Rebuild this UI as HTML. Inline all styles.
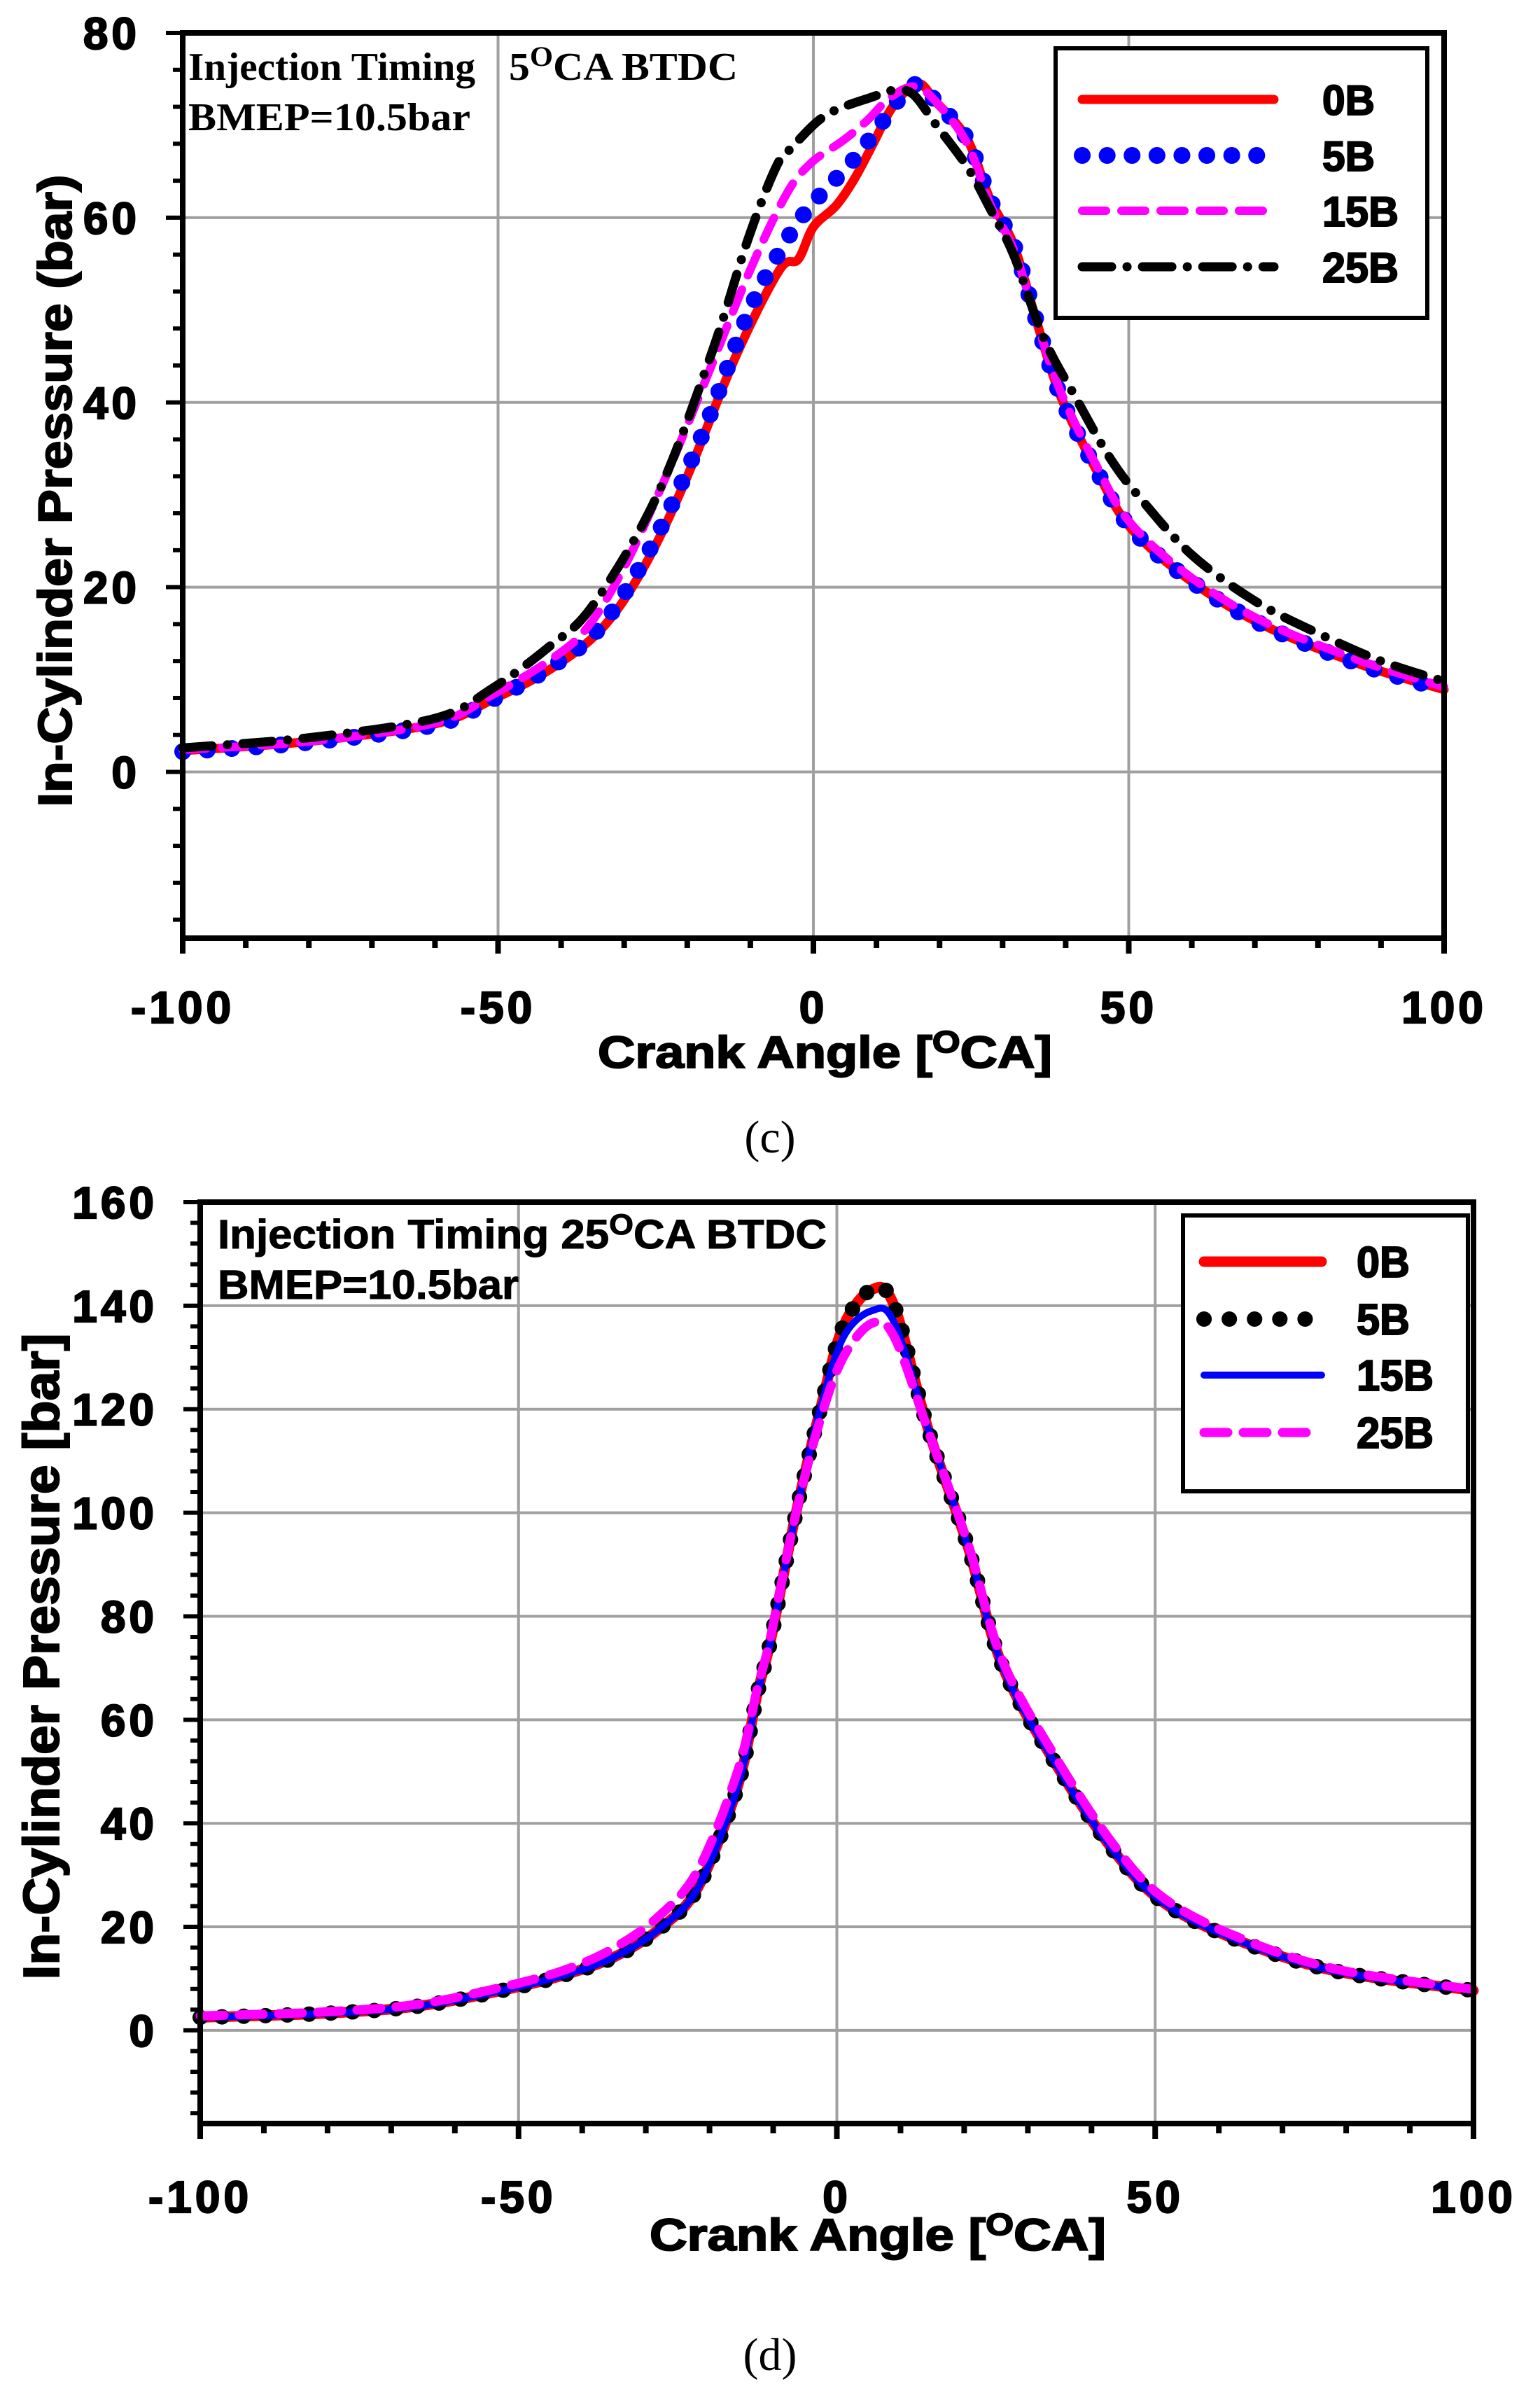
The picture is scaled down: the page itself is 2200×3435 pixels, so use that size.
<!DOCTYPE html>
<html><head><meta charset="utf-8"><style>
html,body{margin:0;padding:0;background:#fff;}
svg{display:block;}
text{font-family:"Liberation Sans",sans-serif;font-weight:bold;fill:#000;}
.tk{font-size:64px;letter-spacing:5px;stroke:#000;stroke-width:2.2px;}
.ax{stroke:#000;stroke-width:2px;}
.sr{font-family:"Liberation Serif",serif;}
</style></head><body>
<svg id="s" width="2200" height="3435" viewBox="0 0 2200 3435" xmlns="http://www.w3.org/2000/svg">
<rect width="2200" height="3435" fill="#fff"/>
<g id="g1"></g><g id="g2"></g>
<text class="sr" x="269" y="114" font-size="56" textLength="410" lengthAdjust="spacingAndGlyphs">Injection Timing</text>
<text class="sr" x="727" y="114" font-size="56" textLength="327" lengthAdjust="spacingAndGlyphs">5<tspan dy="-20" font-size="40">O</tspan><tspan dy="20">CA BTDC</tspan></text>
<text class="sr" x="269" y="186" font-size="56" textLength="403" lengthAdjust="spacingAndGlyphs">BMEP=10.5bar</text>
<text class="ax" x="0" y="0" font-size="68" textLength="903" lengthAdjust="spacingAndGlyphs" text-anchor="middle" transform="translate(102,701) rotate(-90)">In-Cylinder Pressure (bar)</text>
<text class="ax" x="854" y="1525" font-size="64" textLength="649" lengthAdjust="spacingAndGlyphs">Crank Angle [<tspan dy="-22" font-size="44">O</tspan><tspan dy="22">CA]</tspan></text>
<text class="sr" x="1100" y="1646" font-size="66" text-anchor="middle" style="font-weight:normal">(c)</text>
<text x="311" y="1783" font-size="58" textLength="870" lengthAdjust="spacingAndGlyphs" class="ax" style="stroke-width:1px">Injection Timing 25<tspan dy="-20" font-size="42">O</tspan><tspan dy="20">CA BTDC</tspan></text>
<text x="311" y="1855" font-size="58" textLength="430" lengthAdjust="spacingAndGlyphs" class="ax" style="stroke-width:1px">BMEP=10.5bar</text>
<text class="ax" x="0" y="0" font-size="72" textLength="923" lengthAdjust="spacingAndGlyphs" text-anchor="middle" transform="translate(84,2366) rotate(-90)">In-Cylinder Pressure [bar]</text>
<text class="ax" x="928" y="3214" font-size="64" textLength="652" lengthAdjust="spacingAndGlyphs">Crank Angle [<tspan dy="-22" font-size="44">O</tspan><tspan dy="22">CA]</tspan></text>
<text class="sr" x="1100" y="3385" font-size="66" text-anchor="middle" style="font-weight:normal">(d)</text>
</svg>
<script>
var NS="http://www.w3.org/2000/svg";
function el(p,t,a,txt){var e=document.createElementNS(NS,t);for(var k in a)e.setAttribute(k,a[k]);if(txt!==undefined)e.textContent=txt;p.appendChild(e);return e;}
function cr(pts){var d="M"+pts[0][0].toFixed(1)+","+pts[0][1].toFixed(1);
for(var i=0;i<pts.length-1;i++){var p0=pts[Math.max(0,i-1)],p1=pts[i],p2=pts[i+1],p3=pts[Math.min(pts.length-1,i+2)];
var c1x=p1[0]+(p2[0]-p0[0])/6,c1y=p1[1]+(p2[1]-p0[1])/6,c2x=p2[0]-(p3[0]-p1[0])/6,c2y=p2[1]-(p3[1]-p1[1])/6;
d+="C"+c1x.toFixed(1)+","+c1y.toFixed(1)+" "+c2x.toFixed(1)+","+c2y.toFixed(1)+" "+p2[0].toFixed(1)+","+p2[1].toFixed(1);}return d;}
function chart(g,c){
 var X=function(v){return c.x0+(v+100)*(c.x1-c.x0)/200;},Y=function(v){return c.y0-(v-c.ymin)*(c.y0-c.y1)/(c.ymax-c.ymin);};
 [-50,0,50].forEach(function(v){el(g,"line",{x1:X(v),x2:X(v),y1:c.y1,y2:c.y0,stroke:"#a0a0a0","stroke-width":4});});
 for(var v=0;v<=c.ymax;v+=20){el(g,"line",{x1:c.x0,x2:c.x1,y1:Y(v),y2:Y(v),stroke:"#a0a0a0","stroke-width":4});}
 for(var v=-100;v<=100;v+=10){el(g,"line",{x1:X(v),x2:X(v),y1:c.y0,y2:c.y0+(v%50==0?22:14),stroke:"#000","stroke-width":8});}
 for(var v=-16;v<=c.ymax;v+=4){el(g,"line",{x1:c.x0-(v%20==0?24:14),x2:c.x0,y1:Y(v),y2:Y(v),stroke:"#000","stroke-width":6});}
 [-100,-50,0,50,100].forEach(function(v){el(g,"text",{x:X(v),y:c.xl,"text-anchor":"middle","class":"tk"},String(v));});
 for(var v=0;v<=c.ymax;v+=20){el(g,"text",{x:c.yl,y:Y(v)+23,"text-anchor":"end","class":"tk"},String(v));}
 c.ser.forEach(function(s){var pts=s.d.map(function(p){return [X(p[0]),Y(p[1])];});
  var a={d:cr(pts),fill:"none",stroke:s.col,"stroke-width":s.w,"stroke-linecap":"round","stroke-linejoin":"round"};
  if(s.da)a["stroke-dasharray"]=s.da; el(g,"path",a);});
 el(g,"rect",{x:c.x0,y:c.y1,width:c.x1-c.x0,height:c.y0-c.y1,fill:"none",stroke:"#000","stroke-width":8});
 var L=c.leg;el(g,"rect",{x:L.x,y:L.y,width:L.w,height:L.h,fill:"#fff",stroke:"#000","stroke-width":6});
 c.ser.forEach(function(s,i){var yy=L.ys[i];var a={x1:L.lx0,x2:L.lx1,y1:yy,y2:yy,stroke:s.col,"stroke-width":s.lw||s.w,"stroke-linecap":"round"};
  if(s.da)a["stroke-dasharray"]=s.lda||s.da;el(g,"line",a);
  el(g,"text",{x:L.tx,y:yy+22,"font-size":L.fs,"textLength":L.tl[i],"lengthAdjust":"spacingAndGlyphs","class":"ax"},s.n);});
}
var tail0=[[19.5,72.5],[24.4,68.5],[28,62],[31.8,57],[35.5,48.5],[39.3,40.5],[45,32.5],[50.2,26.5],[59.6,20.8],[71.3,15.9],[86.9,11.6],[100,8.9]];
var top0=[[-100,2.3],[-80,3.3],[-60,5.2],[-51,7.8],[-42,11],[-33.7,15.4],[-27,22],[-20.3,31.5],[-12.3,45],[-5.4,54.3],[-2.4,55.5],[0,59],[3.6,61.3],[6.5,64.2],[9.4,67.9],[12,71.4],[14.5,73.6],[16.9,74.5]].concat(tail0);
var top5=[[-100,2.2],[-80,3.2],[-60,5.1],[-51,7.8],[-42,11.2],[-34,15.5],[-26,24],[-17.8,36.2],[-10.3,49.7],[-4.4,57.4],[-0.4,61.3],[5.9,65.9],[9.5,69],[14.4,73.5],[17,74.4]].concat(tail0);
var top15=[[-100,2.4],[-80,3.3],[-60,5.3],[-51,8.3],[-42,12],[-36,15.5],[-30.2,21.9],[-24,31],[-17.8,41.2],[-10.3,53.9],[-4.4,62.4],[-0.4,65.9],[4.6,68.3],[8.5,70.5],[12,72.9],[16,74.2],[19.5,72.5],[24.4,68],[28,61.5],[31.8,56.5],[35.5,48.5],[39.3,41],[45,33],[50.2,27],[59.6,21.2],[71.3,16.3],[86.9,12],[100,9.2]];
var top25=[[-100,2.6],[-80,3.7],[-60,5.8],[-51,9],[-42,13.5],[-35,18],[-25,29.6],[-16.3,45],[-10.3,57.8],[-5.9,65.5],[-3.4,67.6],[2,71.1],[9.5,73.1],[13,73.8],[15.9,73.3],[19.5,70],[24.4,65.5],[28,61],[31.8,55.9],[36.5,47],[41.6,40.5],[47,34],[52,29.5],[60,23.5],[70,18.5],[80,15],[90,12],[100,9.8]];
chart(document.getElementById("g1"),{x0:261,x1:2063,y0:1340,y1:47,ymin:-18,ymax:80,xl:1461,yl:200,
 ser:[{n:"0B",col:"#ff0000",w:13,d:top0},
      {n:"5B",col:"#0000ff",w:24,da:"0.1 35",d:top5,lw:24,lda:"0.1 35.5"},
      {n:"15B",col:"#ff00ff",w:12,da:"34 22",d:top15},
      {n:"25B",col:"#000000",w:13,da:"42 22 0.1 22",d:top25}],
 leg:{x:1508,y:69,w:531,h:385,ys:[142,222,301,381],lx0:1546,lx1:1820,tx:1889,fs:60,tl:[75,75,109,109]}});
var b0=[[-100,2.5],[-80,3.3],[-65,4.8],[-50.4,8.3],[-42,11],[-34.9,14.2],[-28,19.5],[-21.8,27.6],[-15.6,47],[-12.5,65],[-10.4,75.3],[-6.5,99.5],[-2.6,120],[1,136],[5.5,143.1],[9,140],[14.3,116.3],[20.6,93.4],[26,70.4],[34.5,51.2],[43.7,34.3],[51.4,24.6],[63,17.4],[78.5,11.4],[100,7.7]];
var b15=b0.map(function(p){var v=p[1];if(p[0]>-2&&p[0]<12){v=v-(v>128?(v-128)*0.27:0);}return [p[0],v];});
var b25=[[-100,2.8],[-80,3.6],[-65,5.2],[-50.4,9],[-42,12],[-34.9,16],[-28,22],[-21.8,31],[-15.6,50],[-12.5,66],[-10.4,76],[-6.5,99.5],[-2.6,118],[1,130],[5.5,136.6],[9,134],[14.3,116],[20.6,94],[26,71.5],[34.5,52.5],[43.7,35.5],[51.4,25.5],[63,18],[78.5,11.8],[100,7.9]];
chart(document.getElementById("g2"),{x0:286,x1:2105,y0:3033,y1:1717,ymin:-18,ymax:160,xl:3160,yl:225,
 ser:[{n:"0B",col:"#ff0000",w:15,d:b0},
      {n:"5B",col:"#000000",w:22,da:"0.1 31",d:b0,lda:"0.1 36"},
      {n:"15B",col:"#0000ff",w:10,d:b15},
      {n:"25B",col:"#ff00ff",w:13,da:"34 22",d:b25}],
 leg:{x:1690,y:1736,w:407,h:394,ys:[1802,1884,1964,2046],lx0:1720,lx1:1888,tx:1938,fs:62,tl:[76,76,110,110]}});
</script>
</body></html>
